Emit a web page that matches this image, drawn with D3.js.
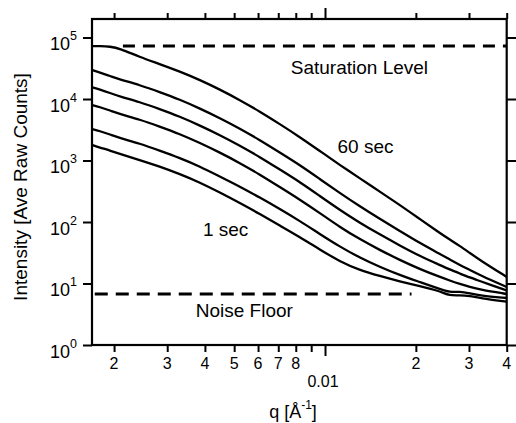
<!DOCTYPE html>
<html>
<head>
<meta charset="UTF-8" />
<script src="https://cdn.jsdelivr.net/npm/d3@7"></script>
<style>
    body { margin: 0; background: white; }
    text { font-family: "Liberation Sans", Arial, sans-serif; fill: black; }
</style>
</head>
<body>
<div id="chart"></div>
<script>
// scattering vector q [1/A], shared by all exposures
const q = [0.00169, 0.00179, 0.00194, 0.00209, 0.00243, 0.00283, 0.00330, 0.00385, 0.00448, 0.00522,
    0.00608, 0.00708, 0.00825, 0.00961, 0.0112, 0.0130, 0.0152, 0.0177, 0.0206, 0.0240,
    0.0259, 0.0280, 0.0302, 0.0326, 0.0400];
// intensities, longest exposure (60 sec) first, shortest (1 sec) last
const curveA = [72700, 72700, 71400, 66200, 48200, 37100, 28000, 20400, 14300, 9630, 6260, 3920, 2410, 1430, 845, 519, 311, 189, 112, 66.2, 51.9, 40.7, 31.3, 24.1, 12.8];
const curveB = [29600, 27000, 23700, 20800, 16900, 13000, 9810, 7010, 4910, 3310, 2150, 1350, 845, 500, 296, 182, 112, 71.4, 45.5, 30.2, 24.6, 20.0, 16.6, 13.7, 8.77];
const curveC = [15500, 14300, 12500, 11000, 8940, 6880, 5190, 3710, 2600, 1750, 1140, 714, 447, 265, 157, 98.1, 62.6, 41.5, 28.0, 20.0, 16.9, 14.5, 12.5, 11.0, 7.69];
const curveD = [7990, 7410, 6500, 5700, 4640, 3570, 2700, 1930, 1350, 911, 592, 371, 232, 140, 82.9, 52.9, 35.0, 24.1, 17.2, 12.8, 11.2, 9.81, 8.77, 7.99, 6.75];
const curveE = [3250, 3020, 2650, 2320, 1890, 1450, 1100, 799, 549, 378, 250, 163, 104, 63.8, 39.7, 26.5, 18.6, 13.7, 10.6, 8.14, 7.2, 7.45, 6.9, 6.38, 5.81];
const curveF = [1790, 1630, 1450, 1280, 1020, 799, 603, 439, 302, 204, 135, 87.7, 57.0, 35.7, 22.8, 16.6, 13.2, 10.8, 9.11, 7.55, 6.3, 6.5, 6.26, 5.81, 5.06];

// reference levels
const saturationQ = [0.00214, 0.04];
const saturationLevel = 72700;
const noiseQ = [0.001726, 0.01935];
const noiseLevel = 6.75;

// ticks
const xTicks = [0.002, 0.003, 0.004, 0.005, 0.006, 0.007, 0.008, 0.009, 0.01, 0.02, 0.03, 0.04];
const xTickLabels = ["2", "3", "4", "5", "6", "7", "8", "", "", "2", "3", "4"];
const yTicks = [1, 10, 100, 1000, 10000, 100000];
const yTickExp = ["0", "1", "2", "3", "4", "5"];

// annotations [q, intensity at baseline]
const notes = [
    {text: "Saturation Level", q: 0.0077, v: 25500},
    {text: "60 sec", q: 0.0110, v: 1340},
    {text: "1 sec", q: 0.00394, v: 59.2},
    {text: "Noise Floor", q: 0.00373, v: 2.82}
];

const W = 516, H = 423;
const m = {top: 19, right: 9.3, bottom: 78, left: 92};

const svg = d3.select("#chart").append("svg")
    .attr("width", W)
    .attr("height", H);

const x = d3.scaleLog().domain([0.00169, 0.04]).range([m.left, W - m.right]);
const y = d3.scaleLog().domain([1, 2e5]).range([H - m.bottom, m.top]);

function styleAxis(g) {
    g.select(".domain").remove();
    g.selectAll("line").attr("stroke", "black").attr("stroke-width", 2);
}

const minorX = xTicks.filter(d => d !== 0.01);

// bottom and top ticks
svg.append("g")
    .attr("transform", "translate(0," + (H - m.bottom) + ")")
    .call(d3.axisBottom(x).tickValues(minorX).tickSize(7).tickSizeOuter(0).tickFormat(""))
    .call(styleAxis);
svg.append("g")
    .attr("transform", "translate(0," + (H - m.bottom) + ")")
    .call(d3.axisBottom(x).tickValues([0.01]).tickSize(11).tickSizeOuter(0).tickFormat(""))
    .call(styleAxis);
svg.append("g")
    .attr("transform", "translate(0," + m.top + ")")
    .call(d3.axisTop(x).tickValues(minorX).tickSize(6).tickSizeOuter(0).tickFormat(""))
    .call(styleAxis);
svg.append("g")
    .attr("transform", "translate(0," + m.top + ")")
    .call(d3.axisTop(x).tickValues([0.01]).tickSize(11).tickSizeOuter(0).tickFormat(""))
    .call(styleAxis);

// left and right ticks
svg.append("g")
    .attr("transform", "translate(" + m.left + ",0)")
    .call(d3.axisLeft(y).tickValues(yTicks).tickSize(9).tickSizeOuter(0).tickFormat(""))
    .call(styleAxis);
svg.append("g")
    .attr("transform", "translate(" + (W - m.right) + ",0)")
    .call(d3.axisRight(y).tickValues(yTicks).tickSize(10).tickSizeOuter(0).tickFormat(""))
    .call(styleAxis);

// frame
svg.append("rect")
    .attr("x", m.left).attr("y", m.top)
    .attr("width", W - m.right - m.left).attr("height", H - m.bottom - m.top)
    .attr("fill", "none").attr("stroke", "black").attr("stroke-width", 2.2);

// x tick labels
svg.selectAll(".xlab").data(xTicks).join("text")
    .attr("class", "xlab")
    .attr("x", d => x(d))
    .attr("y", H - m.bottom + 24)
    .attr("text-anchor", "middle")
    .style("font-size", "16px")
    .text((d, i) => xTickLabels[i]);
svg.append("text")
    .attr("x", x(0.01) - 2)
    .attr("y", H - m.bottom + 42)
    .attr("text-anchor", "middle")
    .style("font-size", "16px")
    .text("0.01");

// y tick labels with superscript
const ylab = svg.selectAll(".ylab").data(yTicks).join("text")
    .attr("class", "ylab")
    .attr("x", 77)
    .attr("y", d => y(d) + 12.5)
    .attr("text-anchor", "end")
    .style("font-size", "18px");
ylab.append("tspan").text("10");
ylab.append("tspan")
    .attr("dy", -10)
    .style("font-size", "12.5px")
    .text((d, i) => yTickExp[i]);

// axis titles
svg.append("text")
    .attr("transform", "translate(27," + 187 + ") rotate(-90)")
    .attr("text-anchor", "middle")
    .style("font-size", "19px")
    .text("Intensity [Ave Raw Counts]");

const xt = svg.append("text")
    .attr("x", 293)
    .attr("y", 418)
    .attr("text-anchor", "middle")
    .style("font-size", "18px");
xt.append("tspan").text("q [Å");
xt.append("tspan").attr("dy", -9).style("font-size", "12px").text("-1");
xt.append("tspan").attr("dy", 9).text("]");

// dashed reference lines
const refLine = d3.line().x(d => x(d[0])).y(d => y(d[1]));
svg.append("path")
    .datum(saturationQ.map(d => [d, saturationLevel]))
    .attr("d", refLine)
    .attr("fill", "none").attr("stroke", "black")
    .attr("stroke-width", 3).attr("stroke-dasharray", "12,8");
svg.append("path")
    .datum(noiseQ.map(d => [d, noiseLevel]))
    .attr("d", refLine)
    .attr("fill", "none").attr("stroke", "black")
    .attr("stroke-width", 3).attr("stroke-dasharray", "13,8");

// curves
const series = [curveA, curveB, curveC, curveD, curveE, curveF];
const line = d3.line()
    .x(d => x(d[0]))
    .y(d => y(d[1]))
    .curve(d3.curveBasis);

svg.selectAll(".curve").data(series).join("path")
    .attr("class", "curve")
    .attr("d", s => line(s.map((v, i) => [q[i], v])))
    .attr("fill", "none")
    .attr("stroke", "black")
    .attr("stroke-width", 2.3);

// annotations
svg.selectAll(".note").data(notes).join("text")
    .attr("class", "note")
    .attr("x", d => x(d.q))
    .attr("y", d => y(d.v))
    .style("font-size", "19px")
    .text(d => d.text);
</script>
</body>
</html>
